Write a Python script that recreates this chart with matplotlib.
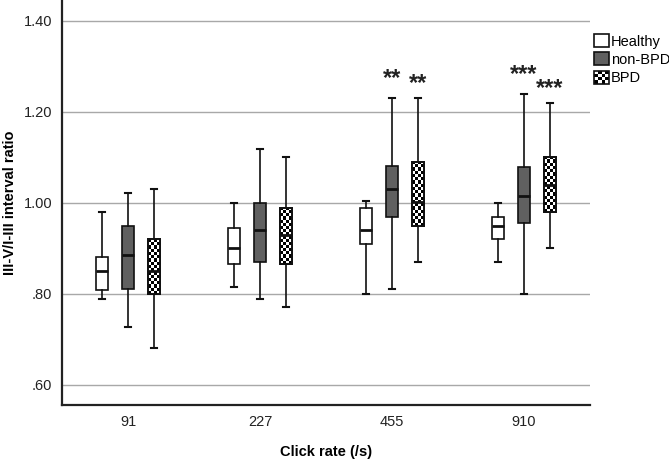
import numpy as np
import matplotlib
matplotlib.use('Agg')
import matplotlib.pyplot as plt
from matplotlib.patches import Rectangle, Patch
from matplotlib.legend_handler import HandlerBase

plt.rcParams['font.family'] = ['Liberation Sans', 'DejaVu Sans']

# 数据
rates = ['91', '227', '455', '910']
groups = ['Healthy', 'non-BPD', 'BPD']

# 每组: [下须, Q1, 中位数, Q3, 上须]，按点击率顺序
healthy = [[0.790, 0.808, 0.851, 0.881, 0.981],
           [0.816, 0.865, 0.900, 0.945, 1.000],
           [0.800, 0.909, 0.941, 0.990, 1.004],
           [0.870, 0.920, 0.950, 0.970, 1.000]]
non_bpd = [[0.727, 0.811, 0.885, 0.949, 1.021],
           [0.790, 0.870, 0.941, 1.000, 1.119],
           [0.811, 0.970, 1.031, 1.081, 1.231],
           [0.800, 0.955, 1.016, 1.080, 1.239]]
bpd = [[0.681, 0.800, 0.851, 0.920, 1.031],
       [0.771, 0.865, 0.930, 0.990, 1.102],
       [0.870, 0.949, 1.003, 1.091, 1.231],
       [0.901, 0.981, 1.040, 1.102, 1.220]]

# 显著性标记
stars_non_bpd = ['', '', '**', '***']
stars_bpd = ['', '', '**', '***']

yticks = [0.60, 0.80, 1.00, 1.20, 1.40]
ytick_labels = ['.60', '.80', '1.00', '1.20', '1.40']

fig = plt.figure(figsize=(6.69, 4.59), dpi=100)
ax = fig.add_axes([0.0927, 0.1176, 0.7893, 0.8824])
ax.set_xlim(-0.5, 3.5)
ax.set_ylim(0.556, 1.446)

ax.set_yticks(yticks)
ax.set_yticklabels(ytick_labels)
ax.set_xticks(range(len(rates)))
ax.set_xticklabels(rates)
ax.yaxis.grid(True, color='#a8a8a8', linewidth=1)
ax.set_axisbelow(True)
ax.tick_params(length=0, labelsize=10.5, pad=7, colors='#222222')
for s in ['top', 'right']:
    ax.spines[s].set_visible(False)
for s in ['left', 'bottom']:
    ax.spines[s].set_linewidth(1.6)
    ax.spines[s].set_color('#222222')

ax.set_xlabel('Click rate (/s)', fontsize=10.5, fontweight='bold', labelpad=12)
ax.set_ylabel('III-V/I-III interval ratio', fontsize=10.5, fontweight='bold', labelpad=5)

offset = 0.197
width = 0.09
fills = ['white', '#606060', 'white']
all_data = [healthy, non_bpd, bpd]

bpd_boxes = []
for gi, (data, fc) in enumerate(zip(all_data, fills)):
    stats = []
    for d in data:
        stats.append({'whislo': d[0], 'q1': d[1], 'med': d[2], 'q3': d[3], 'whishi': d[4]})
    pos = [i + (gi - 1) * offset for i in range(len(rates))]
    bp = ax.bxp(stats, positions=pos, widths=width, patch_artist=True,
                showfliers=False, manage_ticks=False,
                boxprops=dict(facecolor=fc, edgecolor='#111111', linewidth=1.2),
                medianprops=dict(color='#111111', linewidth=2),
                whiskerprops=dict(color='#111111', linewidth=1.2),
                capprops=dict(color='#111111', linewidth=1.5),
                capwidths=width * 0.5)
    if gi == 2:
        bpd_boxes = bp['boxes']
        bpd_meds = bp['medians']

# 棋盘格填充
fig.canvas.draw()
cell = 3.2
for box, med in zip(bpd_boxes, bpd_meds):
    ext = box.get_path().get_extents()
    x0, x1, y0, y1 = ext.x0, ext.x1, ext.y0, ext.y1
    p0 = ax.transData.transform((x0, y0))
    p1 = ax.transData.transform((x1, y1))
    nx = max(1, int(round((p1[0] - p0[0]) / cell)))
    ny = max(1, int(round((p1[1] - p0[1]) / cell)))
    img = (np.add.outer(np.arange(ny), np.arange(nx)) % 2).astype(float)
    im = ax.imshow(img, cmap='gray', extent=(x0, x1, y0, y1), aspect='auto',
                   interpolation='nearest', zorder=box.get_zorder() + 0.1)
    im.set_clip_path(box)
    border = Rectangle((x0, y0), x1 - x0, y1 - y0, fill=False,
                       edgecolor='#111111', linewidth=1.4, zorder=box.get_zorder() + 0.2)
    ax.add_patch(border)
    med.set_zorder(box.get_zorder() + 0.3)

# 星号
for i in range(len(rates)):
    if stars_non_bpd[i]:
        ax.text(i, non_bpd[i][4] + 0.018, stars_non_bpd[i], ha='center', va='bottom',
                fontsize=17, fontweight='bold', color='#222222')
    if stars_bpd[i]:
        ax.text(i + offset, bpd[i][4] + 0.006, stars_bpd[i], ha='center', va='bottom',
                fontsize=17, fontweight='bold', color='#222222')


class CheckerHandler(HandlerBase):
    def create_artists(self, legend, orig_handle, xdescent, ydescent, width, height, fontsize, trans):
        arts = []
        n = 4
        w = width / n
        h = height / n
        for r in range(n):
            for c in range(n):
                col = 'black' if (r + c) % 2 == 0 else 'white'
                arts.append(Rectangle((-xdescent + c * w, -ydescent + r * h), w, h,
                                      facecolor=col, edgecolor='none', transform=trans))
        arts.append(Rectangle((-xdescent, -ydescent), width, height, fill=False,
                              edgecolor='#111111', linewidth=1.2, transform=trans))
        return arts


h1 = Patch(facecolor='white', edgecolor='#111111', linewidth=1.2)
h2 = Patch(facecolor='#606060', edgecolor='#111111', linewidth=1.2)
h3 = Patch(facecolor='white', edgecolor='#111111')
leg = ax.legend([h1, h2, h3], groups, loc='upper left', bbox_to_anchor=(0.997, 0.93),
                frameon=False, fontsize=10.5, handlelength=1.0, handleheight=1.0,
                handletextpad=0.15, labelspacing=0.25, borderaxespad=0.0,
                handler_map={h3: CheckerHandler()})

fig.savefig('out.png', dpi=100)
